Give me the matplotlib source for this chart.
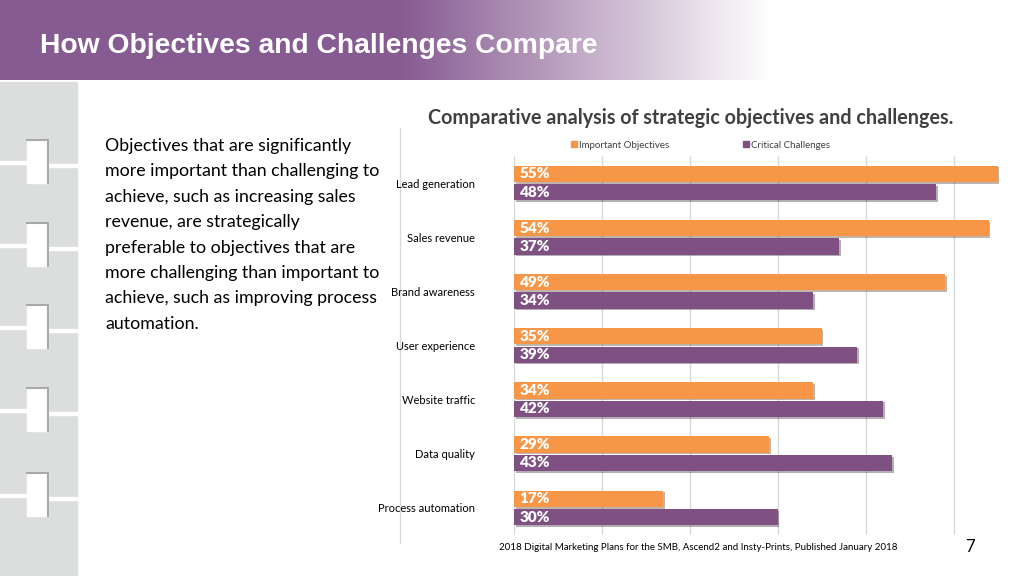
import numpy as np
import matplotlib.pyplot as plt
import matplotlib.patheffects as pe
from matplotlib.lines import Line2D

categories = ['Lead generation', 'Sales revenue', 'Brand awareness', 'User experience',
              'Website traffic', 'Data quality', 'Process automation']
important = [0.55, 0.54, 0.49, 0.35, 0.34, 0.29, 0.17]
critical = [0.48, 0.37, 0.34, 0.39, 0.42, 0.43, 0.30]
series_names = ['Important Objectives', 'Critical Challenges']

title = 'How Objectives and Challenges Compare'
chart_title = 'Comparative analysis of strategic objectives and challenges.'
paragraph = ['Objectives that are significantly',
             'more important than challenging to',
             'achieve, such as increasing sales',
             'revenue, are strategically',
             'preferable to objectives that are',
             'more challenging than important to',
             'achieve, such as improving process',
             'automation.']
source = '2018 Digital Marketing Plans for the SMB, Ascend2 and Insty-Prints, Published January 2018'
page = '7'

ORANGE = '#F79646'
PURPLE = '#7E5182'
TEXT = '#404040'
plt.rcParams['font.family'] = ['Lato', 'DejaVu Sans']

W, H = 1024, 576
fig = plt.figure(figsize=(W / 100, H / 100), dpi=100)

# background layer in pixel coords
bg = fig.add_axes([0, 0, 1, 1])
bg.set_xlim(0, W)
bg.set_ylim(H, 0)
bg.axis('off')

# header gradient band
grad = np.ones((1, W, 3))
c0 = np.array([0x86, 0x5B, 0x91]) / 255
xs = np.arange(W)
t = np.clip((xs - 400) / 370, 0, 1)
grad[0] = c0 * (1 - t)[:, None] + t[:, None]
bg.imshow(grad, extent=(0, W, 80, 0), aspect='auto', zorder=0)
bg.text(40, 46, title, color='white', fontsize=20.3, fontweight='bold',
        family=['Liberation Sans', 'DejaVu Sans'], va='center', ha='left')

# sidebar
bg.add_patch(plt.Rectangle((0, 82), 77, H - 82, color='#DCDEDE', zorder=1))
for top in [140, 223, 305, 388, 473]:
    bg.add_patch(plt.Rectangle((0, top + 21), 28, 3, color='white', zorder=2))
    bg.add_patch(plt.Rectangle((48, top + 24), 29, 3, color='white', zorder=2))
    bg.add_patch(plt.Rectangle((27, top), 21, 43, color='white', zorder=3))
    bg.plot([27, 48, 48], [top, top, top + 43], color='#A8AAAA', lw=1.5, zorder=4)

# divider
bg.plot([400, 400], [128, 543], color='#D9D9D9', lw=1)

for i, line in enumerate(paragraph):
    bg.text(105, 146 + i * 25.4, line, fontsize=12.8, color='black', va='center', ha='left')

bg.text(691, 118, chart_title, fontsize=14.2, fontweight='bold', color=TEXT, ha='center', va='center')
bg.text(698, 548, source, fontsize=7, color='black', ha='center', va='center')
bg.text(970, 547, page, fontsize=12, color='black', ha='center', va='center')

# chart
ax = fig.add_axes([514 / W, 1 - 535 / H, (1002 - 514) / W, 379 / H])
y = np.arange(len(categories))
h = 0.3
off = 0.17
shadow = [pe.SimplePatchShadow(offset=(1.2, -1.2), alpha=0.35), pe.Normal()]
b1 = ax.barh(y - off, important, height=h, color=ORANGE, zorder=3)
b2 = ax.barh(y + off, critical, height=h, color=PURPLE, zorder=3)
for bars, vals in [(b1, important), (b2, critical)]:
    for bar, v in zip(bars, vals):
        bar.set_path_effects(shadow)
        ax.text(0.0065, bar.get_y() + bar.get_height() / 2, f'{round(v * 100)}%',
                color='white', fontweight='heavy', fontsize=11, va='center', ha='left', zorder=4)

ax.set_xlim(0, 0.555)
ax.set_ylim(len(categories) - 0.5, -0.5)
ax.set_xticks(np.arange(0, 0.51, 0.1))
ax.xaxis.grid(True, color='#D9D9D9', lw=1)
ax.set_axisbelow(True)
ax.tick_params(axis='x', length=0, labelbottom=False)
ax.set_yticks(y)
ax.set_yticklabels(categories, fontsize=8, color='black')
ax.tick_params(axis='y', length=0, pad=28)
for s in ax.spines.values():
    s.set_visible(False)

handles = [Line2D([], [], marker='s', ls='', color=ORANGE, markersize=5),
           Line2D([], [], marker='s', ls='', color=PURPLE, markersize=5)]
fig.legend(handles, series_names, loc='center', bbox_to_anchor=(700 / W, 1 - 145 / H), ncol=2,
           frameon=False, fontsize=7, columnspacing=7.5, handletextpad=0.1, handlelength=0.8,
           labelcolor=TEXT)

fig.savefig('out.png', dpi=100)
